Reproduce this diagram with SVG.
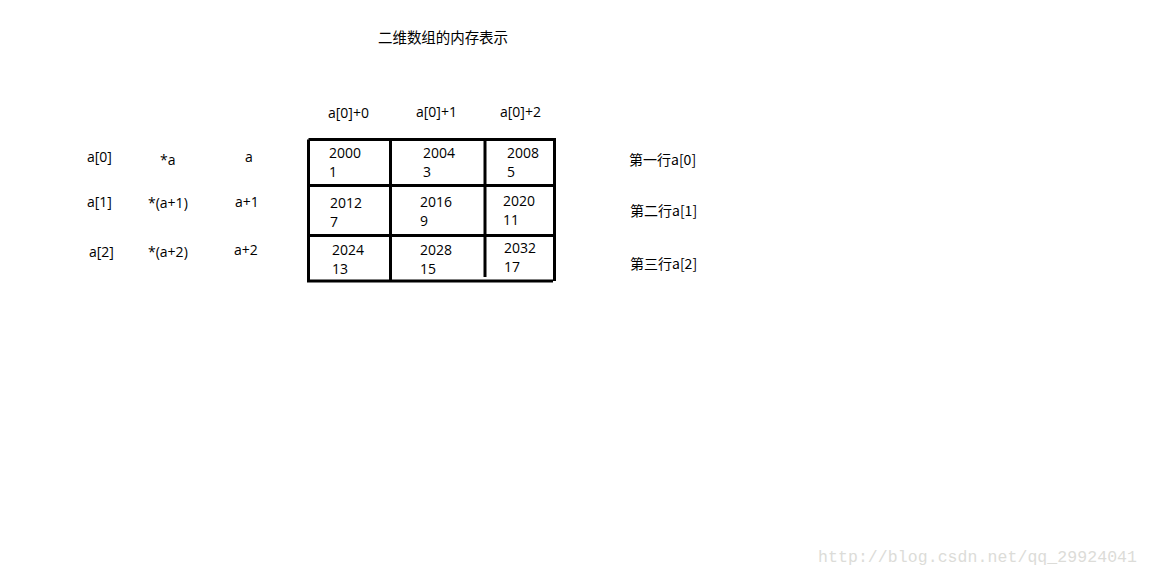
<svg xmlns="http://www.w3.org/2000/svg" width="1149" height="576" viewBox="0 0 1149 576">
<style>
text{font-family:"Open Sans","Noto Sans","Noto Sans CJK SC",sans-serif;font-size:14px;fill:#000}
.cjk{font-family:"Noto Sans CJK SC","Noto Sans",sans-serif;font-size:14px}
.ttl{font-size:14.5px}
.ln{stroke:#000;stroke-width:3;fill:none}
.wm{font-family:"Liberation Mono","DejaVu Sans Mono",monospace;font-size:16.5px;fill:#dcdcd8}
</style>
<rect width="1149" height="576" fill="#fff"/>
<g id="title"><text class="cjk ttl" x="378" y="43" textLength="130">二维数组的内存表示</text></g>
<g id="col-headers">
<text x="328" y="118">a[0]+0</text>
<text x="416" y="117">a[0]+1</text>
<text x="500" y="117">a[0]+2</text>
</g>
<g id="row-labels">
<text x="87" y="162">a[0]</text>
<text x="160" y="165">*a</text>
<text x="245" y="162">a</text>
<text x="87" y="207">a[1]</text>
<text x="148" y="208">*(a+1)</text>
<text x="235" y="207">a+1</text>
<text x="89" y="257">a[2]</text>
<text x="148" y="257">*(a+2)</text>
<text x="234" y="255">a+2</text>
</g>
<g id="grid">
<path class="ln" d="M308.5 139.5 H554.5 V281 M308.5 139.5 V281 H553 M308 185.5 H556 M308 235.5 H554 M390.5 139 V281 M485 139 V277"/>
</g>
<g id="cells">
<text x="329" y="158">2000</text><text x="329" y="177">1</text>
<text x="423" y="158">2004</text><text x="423" y="177">3</text>
<text x="507" y="158">2008</text><text x="507" y="177">5</text>
<text x="330" y="208">2012</text><text x="330" y="227">7</text>
<text x="420" y="207">2016</text><text x="420" y="226">9</text>
<text x="503" y="206">2020</text><text x="503" y="225">11</text>
<text x="332" y="255">2024</text><text x="332" y="274">13</text>
<text x="420" y="255">2028</text><text x="420" y="274">15</text>
<text x="504" y="253">2032</text><text x="504" y="272">17</text>
</g>
<g id="right-labels">
<text class="cjk" x="629" y="165">第一行a[0]</text>
<text class="cjk" x="630" y="216">第二行a[1]</text>
<text class="cjk" x="630" y="269">第三行a[2]</text>
</g>
<g id="watermark"><text class="wm" x="818" y="562" textLength="319">http://blog.csdn.net/qq_29924041</text></g>
</svg>
